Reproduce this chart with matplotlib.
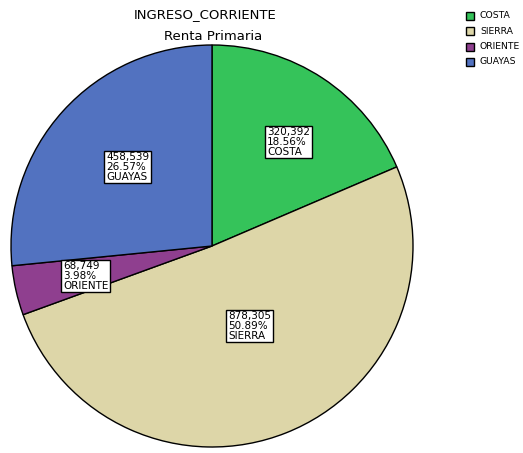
import matplotlib.pyplot as plt

# data
regions = ['COSTA', 'SIERRA', 'ORIENTE', 'GUAYAS']
values = [320392, 878305, 68749, 458539]
colors = ['#35c35a', '#ddd6a8', '#8f3f8f', '#5272c0']

plt.rcParams['font.family'] = ['DejaVu Sans']

W, H = 523, 453
fig = plt.figure(figsize=(W / 100, H / 100), dpi=100)

# pie center / radius in pixels
cx, cy, r = 212, 246, 201
ax = fig.add_axes([(cx - r) / W, (H - cy - r) / H, 2 * r / W, 2 * r / H])
wedges, _ = ax.pie(values, colors=colors, startangle=90, counterclock=False,
                   radius=1, wedgeprops=dict(edgecolor='black', linewidth=1))
ax.set_xlim(-1, 1)
ax.set_ylim(-1, 1)
ax.set_aspect('equal')
ax.axis('off')

total = sum(values)
# label box anchors (left edge, vertical center) in pixels
label_pos = [(267, 142), (228, 326), (63, 276), (106, 167)]
for name, v, (px, py) in zip(regions, values, label_pos):
    txt = f"{v:,}\n{100 * v / total:.2f}%\n{name}"
    ax.text((px - cx) / r, (cy - py) / r, txt, ha='left', va='center',
            fontsize=7.5, linespacing=0.97,
            bbox=dict(boxstyle='square,pad=0.15', facecolor='white',
                      edgecolor='black', linewidth=1))

fig.text(205 / W, 1 - 15 / H, 'INGRESO_CORRIENTE', ha='center', va='center', fontsize=9.5)
fig.text(213 / W, 1 - 37 / H, 'Renta Primaria', ha='center', va='center', fontsize=9.5)

# legend
leg_y = [16, 31, 46.5, 62]
for name, c, ly in zip(regions, colors, leg_y):
    fig.patches.append(plt.Rectangle(((466) / W, 1 - (ly + 4) / H), 8 / W, 8 / H,
                                     facecolor=c, edgecolor='black', linewidth=1,
                                     transform=fig.transFigure, figure=fig))
    fig.text(480 / W, 1 - ly / H, name, ha='left', va='center', fontsize=6.7)

fig.savefig('out.png', dpi=100)
